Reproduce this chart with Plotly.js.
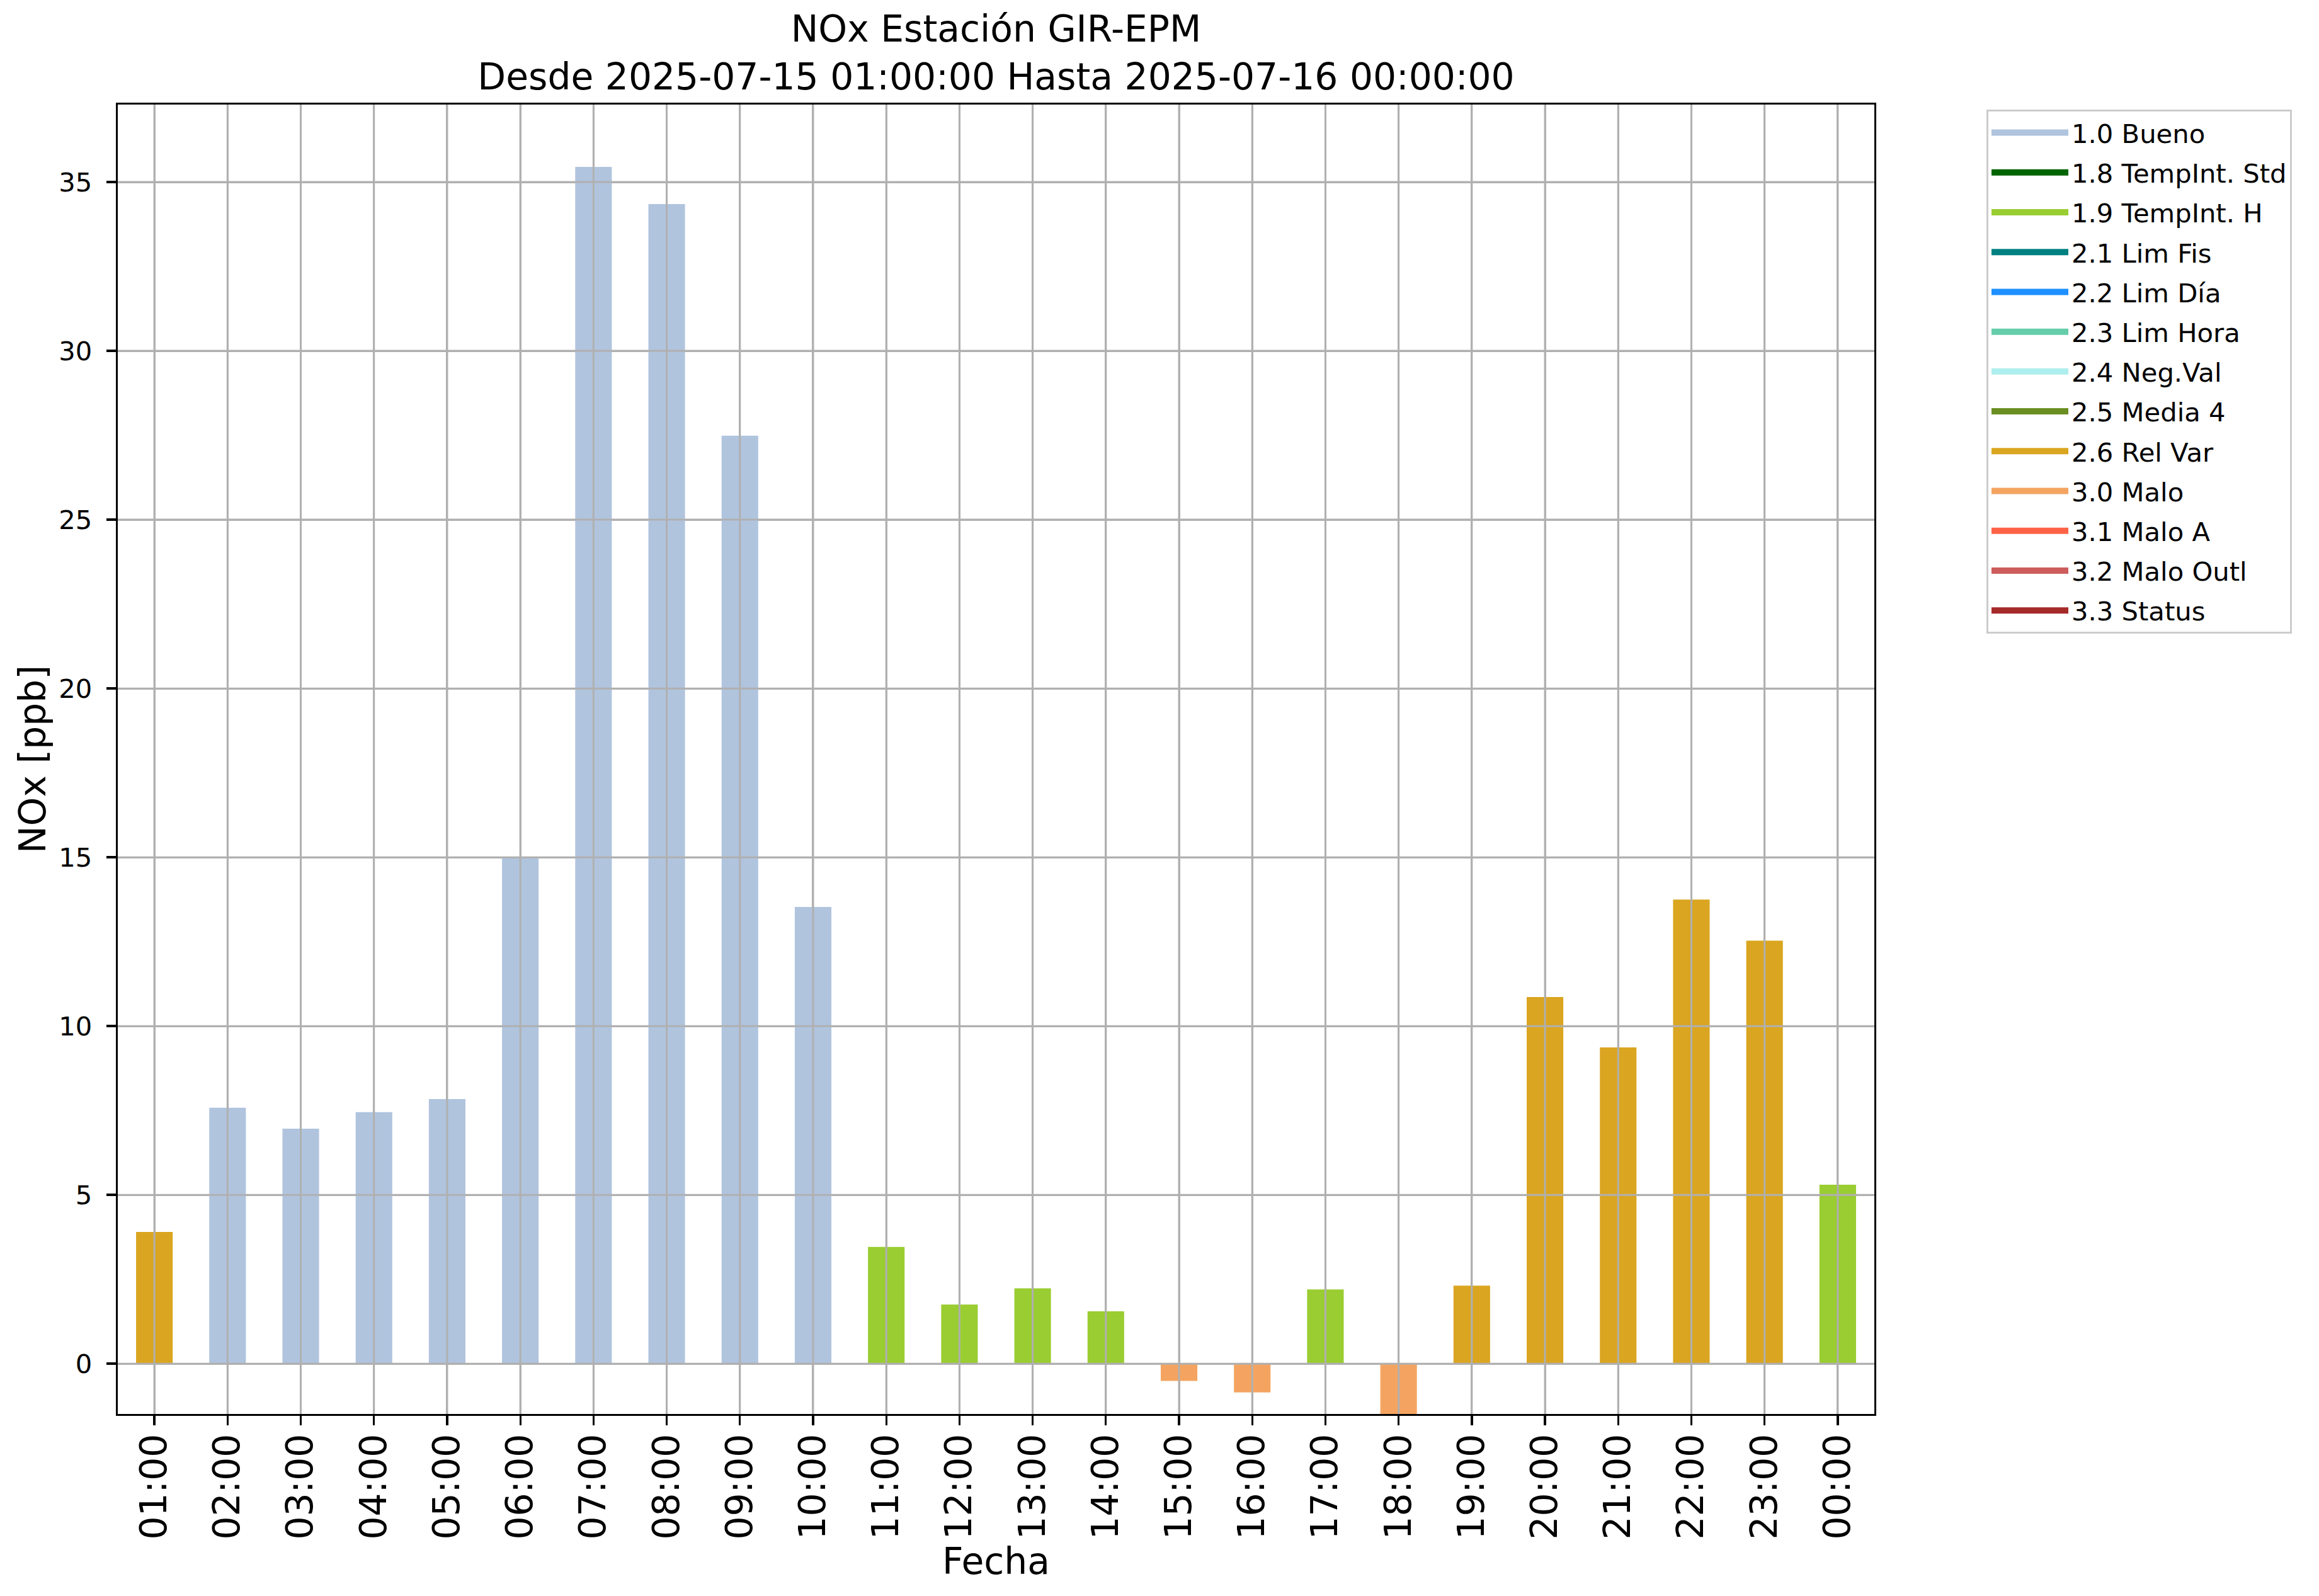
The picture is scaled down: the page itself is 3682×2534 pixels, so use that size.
<!DOCTYPE html>
<html>
<head>
<meta charset="utf-8">
<script src="https://cdn.plot.ly/plotly-3.0.1.min.js"></script>
<style>html,body{margin:0;padding:0;background:#fff;}#chart{width:3682px;height:2534px;}</style>
</head>
<body>
<div id="chart"></div>
<script>
const hours = ["01:00","02:00","03:00","04:00","05:00","06:00","07:00","08:00","09:00","10:00","11:00","12:00","13:00","14:00","15:00","16:00","17:00","18:00","19:00","20:00","21:00","22:00","23:00","00:00"];
const values = [3.90, 7.58, 6.96, 7.45, 7.84, 15.02, 35.45, 34.35, 27.49, 13.53, 3.46, 1.75, 2.23, 1.55, -0.51, -0.85, 2.20, -1.49, 2.31, 10.86, 9.37, 13.75, 12.53, 5.30];
const hourFlags = ["2.6 Rel Var","1.0 Bueno","1.0 Bueno","1.0 Bueno","1.0 Bueno","1.0 Bueno","1.0 Bueno","1.0 Bueno","1.0 Bueno","1.0 Bueno","1.9 TempInt. H","1.9 TempInt. H","1.9 TempInt. H","1.9 TempInt. H","3.0 Malo","3.0 Malo","1.9 TempInt. H","3.0 Malo","2.6 Rel Var","2.6 Rel Var","2.6 Rel Var","2.6 Rel Var","2.6 Rel Var","1.9 TempInt. H"];
const flagLabels = ["1.0 Bueno","1.8 TempInt. Std","1.9 TempInt. H","2.1 Lim Fis","2.2 Lim Día","2.3 Lim Hora","2.4 Neg.Val","2.5 Media 4","2.6 Rel Var","3.0 Malo","3.1 Malo A","3.2 Malo Outl","3.3 Status"];
const flagColors = ["#B0C4DE","#006400","#9ACD32","#008080","#1E90FF","#66CDAA","#AFEEEE","#6B8E23","#DAA520","#F4A460","#FF6347","#CD5C5C","#A52A2A"];
const yTicks = [0,5,10,15,20,25,30,35];

const FONT = "DejaVu Sans, Liberation Sans, sans-serif";
const GRID = "#b0b0b0";

// bars, one trace per quality flag
const barTraces = flagLabels.map((lab, k) => ({
  type: "bar",
  name: lab,
  legendgroup: lab,
  x: hours,
  y: values.map((v, i) => hourFlags[i] === lab ? v : null),
  width: 0.5,
  marker: {color: flagColors[k], line: {width: 0}},
  showlegend: false
}));
// legend entries (wide colour swatches), no marks in the plot
const legendTraces = flagLabels.map((lab, k) => ({
  type: "scatter",
  mode: "lines",
  name: lab,
  legendgroup: lab,
  x: [null], y: [null],
  line: {color: flagColors[k], width: 19},
  showlegend: true
}));

const vmin = Math.min(...values), vmax = Math.max(...values);
const yRange = [vmin, vmax + 0.05 * (vmax - vmin)];

const shapes = [];
hours.forEach(h => shapes.push({type: "line", layer: "above", xref: "x", yref: "paper", x0: h, x1: h, y0: 0, y1: 1, line: {color: GRID, width: 3}}));
yTicks.forEach(t => shapes.push({type: "line", layer: "above", xref: "paper", yref: "y", x0: 0, x1: 1, y0: t, y1: t, line: {color: GRID, width: 3}}));

const layout = {
  width: 3682, height: 2534,
  paper_bgcolor: "#ffffff", plot_bgcolor: "#ffffff",
  font: {family: FONT, color: "#000000", size: 42},
  margin: {l: 187, r: 706, t: 166, b: 289, autoexpand: false},
  barmode: "overlay",
  title: {
    text: "NOx Estación GIR-EPM<br>Desde 2025-07-15 01:00:00 Hasta 2025-07-16 00:00:00",
    font: {family: FONT, size: 58.3, color: "#000"},
    x: 0.5, xref: "paper", xanchor: "center",
    y: 1 - 66/2534, yref: "container", yanchor: "middle"
  },
  xaxis: {
    type: "category",
    categoryorder: "array", categoryarray: hours,
    range: [-0.5, hours.length - 0.5],
    tickangle: -90,
    tickfont: {family: FONT, size: 58.3, color: "#000"},
    ticks: "outside", ticklen: 15, tickwidth: 3.3, tickcolor: "#000",
    ticklabelstandoff: -10,
    showline: true, linecolor: "#000", linewidth: 3.3, mirror: true,
    showgrid: true, gridcolor: GRID, gridwidth: 3,
    zeroline: false,
    automargin: false,
    title: {text: "Fecha", font: {family: FONT, size: 58.3, color: "#000"}, standoff: 14}
  },
  yaxis: {
    range: yRange,
    tickmode: "array", tickvals: yTicks, ticktext: yTicks.map(String),
    tickfont: {family: FONT, size: 41.7, color: "#000"},
    ticks: "outside", ticklen: 15, tickwidth: 3.3, tickcolor: "#000",
    ticklabelstandoff: 14,
    showline: true, linecolor: "#000", linewidth: 3.3, mirror: true,
    showgrid: true, gridcolor: GRID, gridwidth: 3,
    zeroline: false,
    automargin: false,
    title: {text: "NOx [ppb]", font: {family: FONT, size: 58.3, color: "#000"}, standoff: 3}
  },
  legend: {
    x: (3154 - 187) / (2976 - 187), xanchor: "left",
    y: 1 - (174 - 166) / (2245 - 166), yanchor: "top",
    bgcolor: "#ffffff",
    bordercolor: "#cccccc", borderwidth: 3,
    font: {family: FONT, size: 41.7, color: "#000"},
    tracegroupgap: 6,
    itemwidth: 122,
    traceorder: "grouped"
  },
  shapes: shapes,
  showlegend: true
};

Plotly.newPlot("chart", barTraces.concat(legendTraces), layout, {staticPlot: true});
</script>
</body>
</html>
